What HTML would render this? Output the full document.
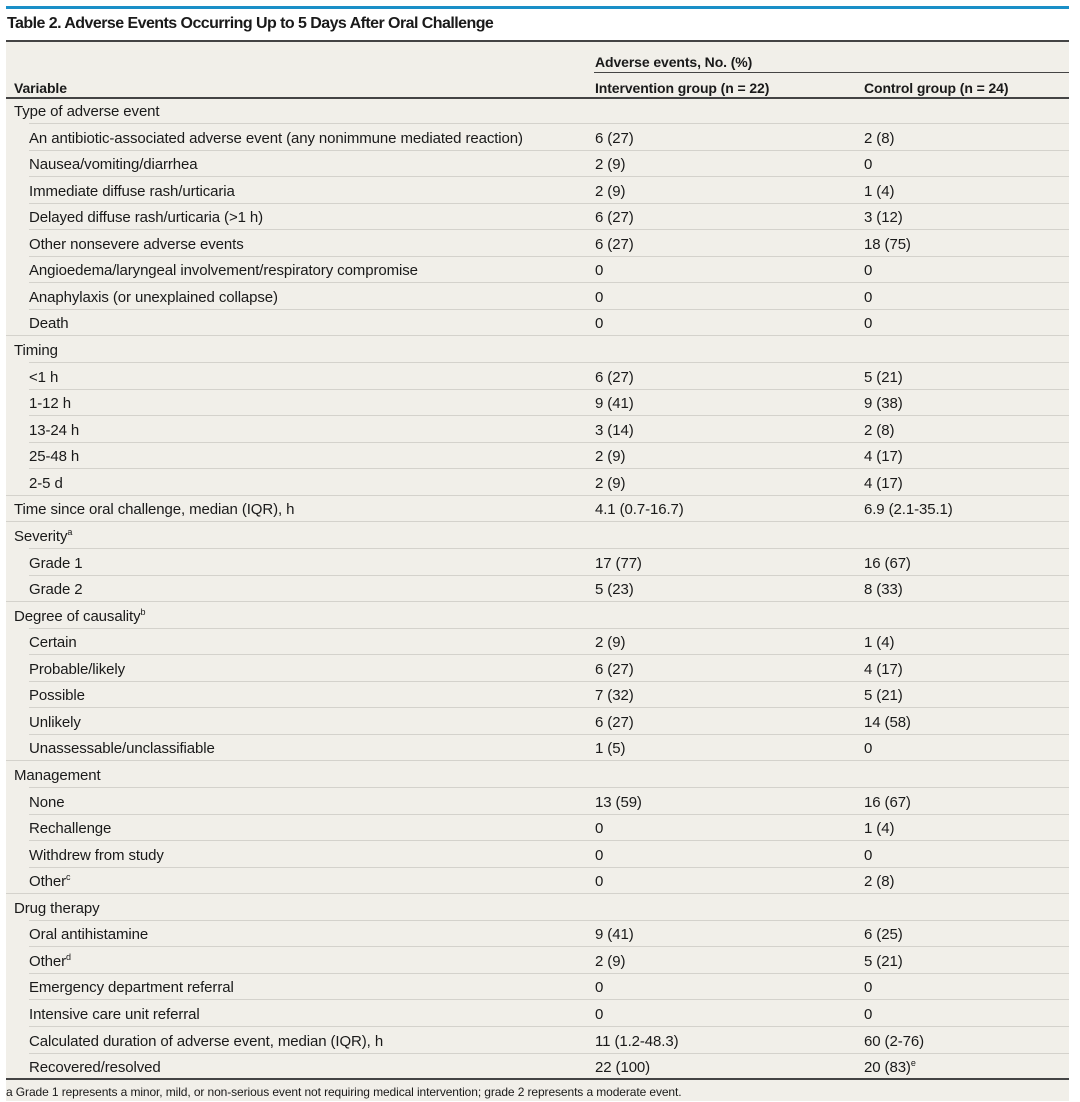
<!DOCTYPE html>
<html><head><meta charset="utf-8"><style>
body{margin:0;width:1080px;height:1090px;background:#fff;position:relative;overflow:hidden;font-family:"Liberation Sans",sans-serif;color:#1a1a1a}
.bg{position:absolute;left:6px;top:41px;width:1063px;height:1060px;background:#f1efe9}
.t{position:absolute;font-size:15px;line-height:20px;white-space:nowrap;letter-spacing:-0.1px}
.l{position:absolute;height:1px;background:#d4d2cc;right:11px}
.k{position:absolute;background:#444;right:11px}
sup{font-size:9px;line-height:0}
</style></head><body>
<div style="position:absolute;left:6px;top:6px;width:1063px;height:3px;background:#1a8fc7"></div>
<div class="bg"></div>
<div class="t" style="left:7px;top:14px;font-size:16px;font-weight:bold;letter-spacing:-0.55px">Table 2. Adverse Events Occurring Up to 5 Days After Oral Challenge</div>
<div class="k" style="left:6px;top:40px;height:2px"></div>
<div class="t" style="left:595px;top:52px;font-weight:bold;font-size:14px">Adverse events, No. (%)</div>
<div class="k" style="left:594px;top:72px;height:1px"></div>
<div class="t" style="left:14px;top:78px;font-weight:bold;font-size:14px">Variable</div>
<div class="t" style="left:595px;top:78px;font-weight:bold;font-size:14px">Intervention group (n = 22)</div>
<div class="t" style="left:864px;top:78px;font-weight:bold;font-size:14px">Control group (n = 24)</div>
<div class="k" style="left:6px;top:97px;height:2px"></div>
<div id="rows"></div>
<div class="k" style="left:6px;top:1078px;height:2px"></div>
<div class="t" style="left:6px;top:1082px;font-size:12px">a Grade 1 represents a minor, mild, or non-serious event not requiring medical intervention; grade 2 represents a moderate event.</div>
<script>
var R=[
[0,"Type of adverse event","",""],
[1,"An antibiotic-associated adverse event (any nonimmune mediated reaction)","6 (27)","2 (8)"],
[1,"Nausea/vomiting/diarrhea","2 (9)","0"],
[1,"Immediate diffuse rash/urticaria","2 (9)","1 (4)"],
[1,"Delayed diffuse rash/urticaria (&gt;1 h)","6 (27)","3 (12)"],
[1,"Other nonsevere adverse events","6 (27)","18 (75)"],
[1,"Angioedema/laryngeal involvement/respiratory compromise","0","0"],
[1,"Anaphylaxis (or unexplained collapse)","0","0"],
[1,"Death","0","0"],
[0,"Timing","",""],
[1,"&lt;1 h","6 (27)","5 (21)"],
[1,"1-12 h","9 (41)","9 (38)"],
[1,"13-24 h","3 (14)","2 (8)"],
[1,"25-48 h","2 (9)","4 (17)"],
[1,"2-5 d","2 (9)","4 (17)"],
[0,"Time since oral challenge, median (IQR), h","4.1 (0.7-16.7)","6.9 (2.1-35.1)"],
[0,"Severity<sup>a</sup>","",""],
[1,"Grade 1","17 (77)","16 (67)"],
[1,"Grade 2","5 (23)","8 (33)"],
[0,"Degree of causality<sup>b</sup>","",""],
[1,"Certain","2 (9)","1 (4)"],
[1,"Probable/likely","6 (27)","4 (17)"],
[1,"Possible","7 (32)","5 (21)"],
[1,"Unlikely","6 (27)","14 (58)"],
[1,"Unassessable/unclassifiable","1 (5)","0"],
[0,"Management","",""],
[1,"None","13 (59)","16 (67)"],
[1,"Rechallenge","0","1 (4)"],
[1,"Withdrew from study","0","0"],
[1,"Other<sup>c</sup>","0","2 (8)"],
[0,"Drug therapy","",""],
[1,"Oral antihistamine","9 (41)","6 (25)"],
[1,"Other<sup>d</sup>","2 (9)","5 (21)"],
[1,"Emergency department referral","0","0"],
[1,"Intensive care unit referral","0","0"],
[1,"Calculated duration of adverse event, median (IQR), h","11 (1.2-48.3)","60 (2-76)"],
[1,"Recovered/resolved","22 (100)","20 (83)<sup>e</sup>"]];
var h="",s=26.56;
for(var i=0;i<R.length;i++){var y=110+i*s,r=R[i];
h+='<div class="t" style="left:'+(r[0]?29:14)+'px;top:'+(y-8)+'px">'+r[1]+'</div>';
h+='<div class="t" style="left:595px;top:'+(y-8)+'px">'+r[2]+'</div>';
h+='<div class="t" style="left:864px;top:'+(y-8)+'px">'+r[3]+'</div>';
if(i<R.length-1){var nx=R[i+1][0]?29:6;h+='<div class="l" style="left:'+nx+'px;top:'+Math.round(y+13)+'px"></div>';}}
document.getElementById("rows").innerHTML=h;
</script>
</body></html>
